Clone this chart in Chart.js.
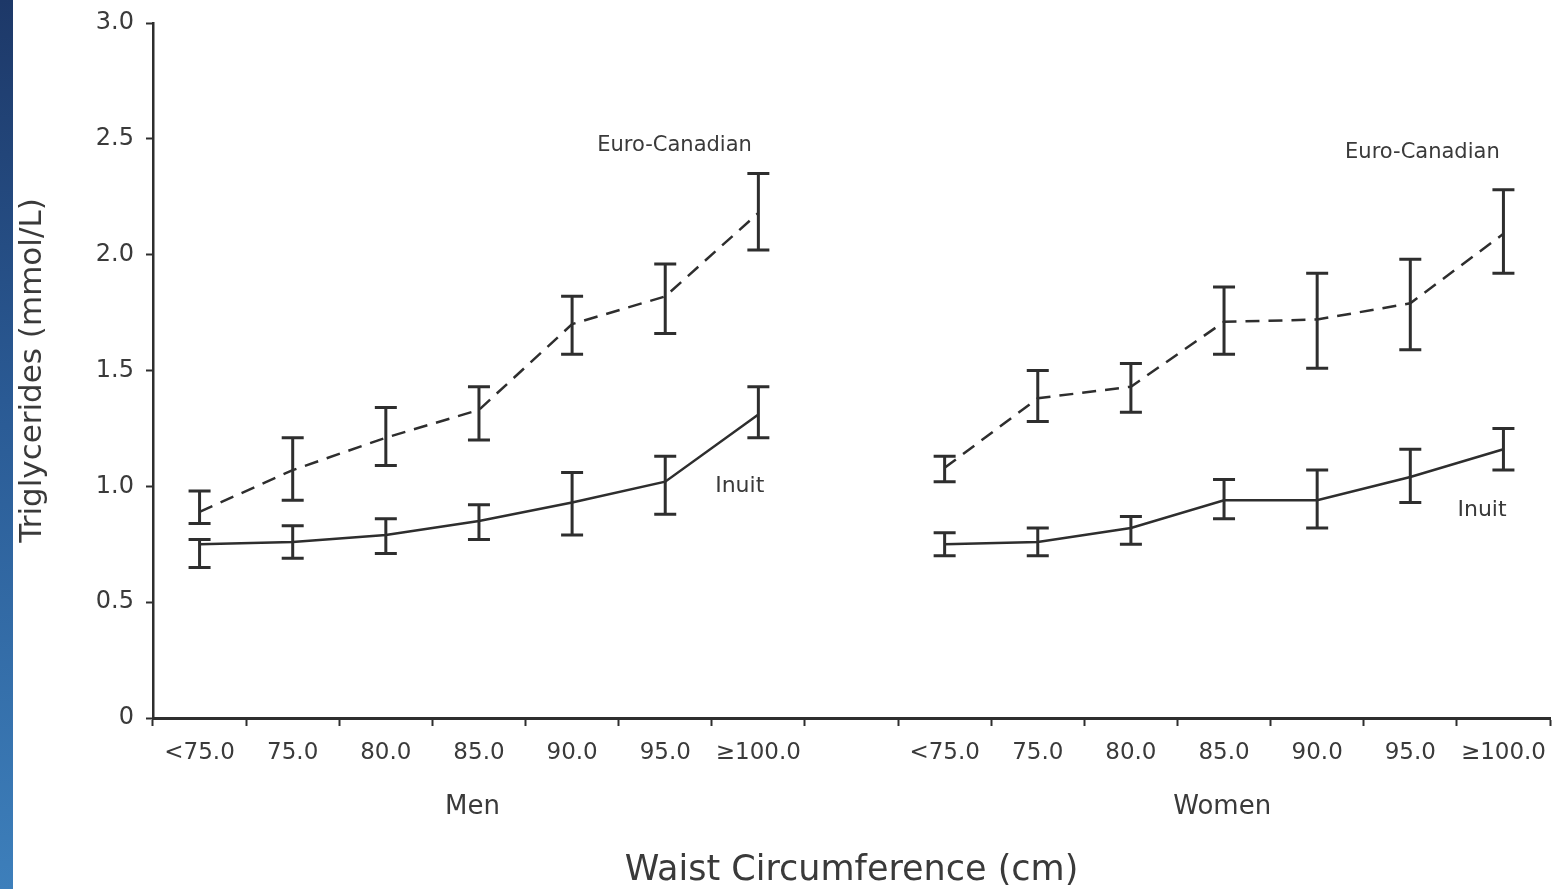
<!DOCTYPE html>
<html>
<head>
<meta charset="utf-8">
<script src="https://cdn.jsdelivr.net/npm/chart.js@4/dist/chart.umd.min.js"></script>
<style>
  html, body { margin: 0; padding: 0; background: #ffffff; }
  #wrap { position: relative; width: 1553px; height: 889px; }
  #strip { position: absolute; left: 0; top: 0; width: 13px; height: 889px;
           background: linear-gradient(to bottom, #1d3868 0%, #2a5a94 45%, #3d7fbb 100%); }
  canvas { position: absolute; left: 0; top: 0; }
</style>
</head>
<body>
<div id="wrap">
  <div id="strip"></div>
  <canvas id="c" width="1553" height="889"></canvas>
</div>
<script>
// ---- Data ----
const waistLabels = ['<75.0', '75.0', '80.0', '85.0', '90.0', '95.0', '\u2265100.0'];
const groupLabels = ['Men', 'Women'];

const menEuro      = [0.89, 1.07, 1.21, 1.33, 1.70, 1.82, 2.18];
const menEuroLow   = [0.84, 0.94, 1.09, 1.20, 1.57, 1.66, 2.02];
const menEuroHigh  = [0.98, 1.21, 1.34, 1.43, 1.82, 1.96, 2.35];

const menInuit     = [0.75, 0.76, 0.79, 0.85, 0.93, 1.02, 1.31];
const menInuitLow  = [0.65, 0.69, 0.71, 0.77, 0.79, 0.88, 1.21];
const menInuitHigh = [0.77, 0.83, 0.86, 0.92, 1.06, 1.13, 1.43];

const womenEuro      = [1.08, 1.38, 1.43, 1.71, 1.72, 1.79, 2.09];
const womenEuroLow   = [1.02, 1.28, 1.32, 1.57, 1.51, 1.59, 1.92];
const womenEuroHigh  = [1.13, 1.50, 1.53, 1.86, 1.92, 1.98, 2.28];

const womenInuit     = [0.75, 0.76, 0.82, 0.94, 0.94, 1.04, 1.16];
const womenInuitLow  = [0.70, 0.70, 0.75, 0.86, 0.82, 0.93, 1.07];
const womenInuitHigh = [0.80, 0.82, 0.87, 1.03, 1.07, 1.16, 1.25];

const yTicks = [0, 0.5, 1.0, 1.5, 2.0, 2.5, 3.0];

// ---- Build library structures ----
const categories = [...waistLabels, '', ...waistLabels];
const join = (a, b) => [...a, null, ...b];
const euroData  = join(menEuro, womenEuro);
const euroLow   = join(menEuroLow, womenEuroLow);
const euroHigh  = join(menEuroHigh, womenEuroHigh);
const inuitData = join(menInuit, womenInuit);
const inuitLow  = join(menInuitLow, womenInuitLow);
const inuitHigh = join(menInuitHigh, womenInuitHigh);

const INK = '#2e2e2e';
const TXT = '#3a3a3a';
const FONT = "'DejaVu Sans', 'Open Sans', sans-serif";

const errorBars = {
  id: 'errorBars',
  afterDatasetsDraw(chart) {
    const ctx = chart.ctx;
    const ys = chart.scales.y;
    chart.data.datasets.forEach((ds, di) => {
      const meta = chart.getDatasetMeta(di);
      ctx.save();
      ctx.strokeStyle = INK;
      ctx.lineWidth = 3;
      ctx.setLineDash([]);
      meta.data.forEach((pt, i) => {
        const lo = ds.errLow[i], hi = ds.errHigh[i];
        if (lo == null || hi == null) return;
        const x = pt.x;
        const yl = ys.getPixelForValue(lo), yh = ys.getPixelForValue(hi);
        const w = 11;
        ctx.beginPath();
        ctx.moveTo(x, yl); ctx.lineTo(x, yh);
        ctx.moveTo(x - w, yl); ctx.lineTo(x + w, yl);
        ctx.moveTo(x - w, yh); ctx.lineTo(x + w, yh);
        ctx.stroke();
      });
      ctx.restore();
    });
  }
};

const textLabels = {
  id: 'textLabels',
  afterDraw(chart) {
    const ctx = chart.ctx;
    const xs = chart.scales.x, ys = chart.scales.y;
    ctx.save();
    ctx.fillStyle = TXT;
    ctx.textAlign = 'center';
    ctx.textBaseline = 'middle';
    ctx.font = '21px ' + FONT;
    ctx.fillText('Euro-Canadian', xs.getPixelForValue(5.1), ys.getPixelForValue(2.47));
    ctx.fillText('Euro-Canadian', xs.getPixelForValue(13.13), ys.getPixelForValue(2.44));
    ctx.font = '22px ' + FONT;
    ctx.fillText('Inuit', xs.getPixelForValue(5.8), ys.getPixelForValue(1.0));
    ctx.fillText('Inuit', xs.getPixelForValue(13.77), ys.getPixelForValue(0.895));
    ctx.font = '26px ' + FONT;
    const gy = ys.bottom + 89;
    ctx.fillText(groupLabels[0], xs.getPixelForValue(2.93), gy);
    ctx.fillText(groupLabels[1], xs.getPixelForValue(10.98), gy);
    ctx.restore();
  }
};

new Chart(document.getElementById('c'), {
  type: 'line',
  data: {
    labels: categories,
    datasets: [
      {
        label: 'Euro-Canadian',
        data: euroData, errLow: euroLow, errHigh: euroHigh,
        borderColor: INK, borderWidth: 2.5, borderDash: [14, 9],
        pointRadius: 0, tension: 0, spanGaps: false, fill: false
      },
      {
        label: 'Inuit',
        data: inuitData, errLow: inuitLow, errHigh: inuitHigh,
        borderColor: INK, borderWidth: 2.5,
        pointRadius: 0, tension: 0, spanGaps: false, fill: false
      }
    ]
  },
  options: {
    responsive: false,
    animation: false,
    devicePixelRatio: 1,
    layout: { padding: { left: 0, right: 3, top: 23, bottom: 0 } },
    plugins: { legend: { display: false }, tooltip: { enabled: false } },
    scales: {
      x: {
        type: 'category',
        offset: true,
        grid: { offset: true, drawOnChartArea: false, drawTicks: true, tickLength: 8, tickWidth: 2, tickColor: INK },
        border: { display: true, color: INK, width: 3 },
        ticks: { color: TXT, font: { family: FONT, size: 23 }, padding: 13, maxRotation: 0, autoSkip: false },
        title: { display: true, text: 'Waist Circumference (cm)', color: TXT,
                 font: { family: FONT, size: 35 }, padding: { top: 0, bottom: -3 } },
        afterFit(scale) { scale.height = 171; scale.paddingLeft = 0; scale.paddingRight = 0; }
      },
      y: {
        min: 0, max: 3,
        afterBuildTicks(scale) { scale.ticks = yTicks.map(v => ({ value: v })); },
        grid: { drawOnChartArea: false, drawTicks: true, tickLength: 7, tickWidth: 2, tickColor: INK },
        border: { display: true, color: INK, width: 2.5 },
        ticks: { color: TXT, font: { family: FONT, size: 24 }, padding: 12,
                 callback: v => v === 0 ? '0' : Number(v).toFixed(1) },
        title: { display: true, text: 'Triglycerides (mmol/L)', color: TXT,
                 font: { family: FONT, size: 31 }, padding: { top: 14, bottom: 0 } },
        afterFit(scale) { scale.width = 153; scale.paddingTop = 0; scale.paddingBottom = 0; }
      }
    }
  },
  plugins: [errorBars, textLabels]
});
</script>
</body>
</html>
